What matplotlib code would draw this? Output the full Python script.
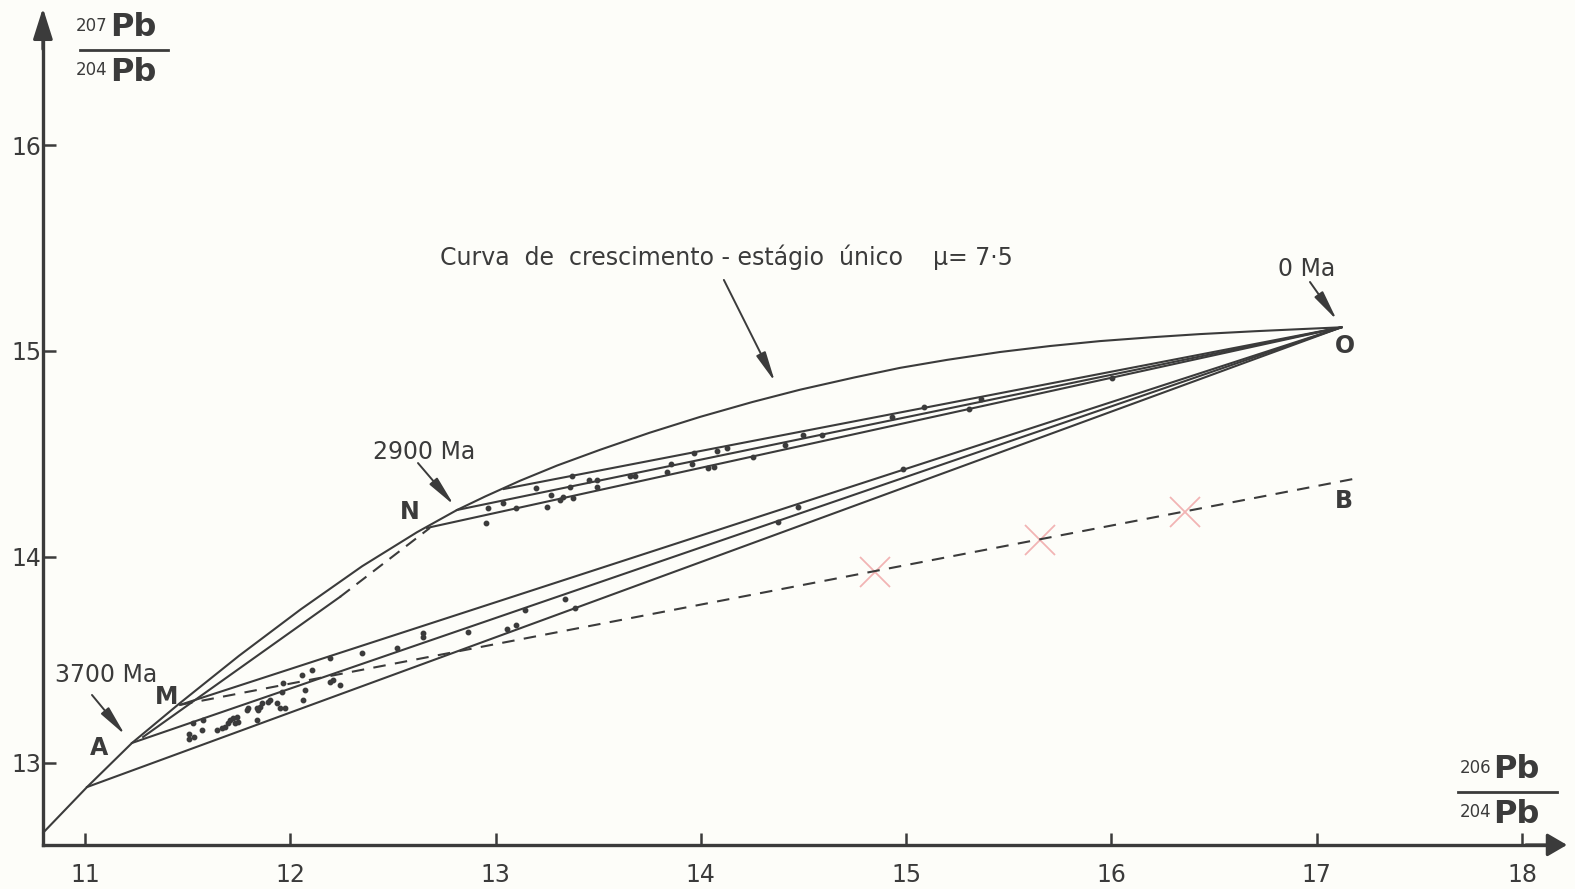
import matplotlib
matplotlib.use("Agg")
import matplotlib.pyplot as plt

plt.rcParams['font.family'] = ['DejaVu Sans']

# ---------------- data ----------------
# single-stage growth curve, mu = 7.5
curve_x = [10.795, 11.010, 11.229, 11.463, 11.750, 12.050, 12.350, 12.617, 12.812,
           12.950, 13.119, 13.300, 13.508, 13.750, 13.996, 14.250, 14.483, 14.750,
           14.970, 15.200, 15.457, 15.700, 15.944, 16.200, 16.431, 16.700, 16.918,
           17.120]
curve_y = [12.660, 12.883, 13.097, 13.291, 13.520, 13.745, 13.955, 14.120, 14.228,
           14.294, 14.370, 14.444, 14.520, 14.603, 14.680, 14.752, 14.812, 14.872,
           14.918, 14.957, 14.995, 15.024, 15.048, 15.067, 15.082, 15.096, 15.106,
           15.115]

# present-day point O
o_x, o_y = 17.120, 15.115

# chords to O: upper bundle (from 2900 Ma region) and lower bundle (from 3700 Ma region)
upper_start_x = [13.040, 12.812, 12.666]
upper_start_y = [14.330, 14.228, 14.141]
lower_start_x = [11.010, 11.229, 11.463]
lower_start_y = [12.883, 13.097, 13.282]

# chord A -> N (solid part, then dashed part)
chord_x = [11.283, 12.242, 12.680]
chord_y = [13.126, 13.806, 14.141]

# dashed line M -> B
mb_x = [11.463, 17.201]
mb_y = [13.282, 14.383]

# faint red crosses on line M-B
cross_x = [14.848, 15.652, 16.358]
cross_y = [13.927, 14.083, 14.218]

# analyses, upper bundle
upper_pts_x = [12.964, 12.953, 13.038, 13.099, 13.197, 13.249, 13.268, 13.314, 13.330,
               13.378, 13.371, 13.362, 13.456, 13.492, 13.492, 13.653, 13.679, 13.853,
               13.835, 13.966, 13.956, 14.035, 14.062, 14.078, 14.127, 14.254, 14.410,
               14.497, 14.592, 14.931, 15.087, 15.306, 15.366, 16.002]
upper_pts_y = [14.236, 14.167, 14.261, 14.236, 14.334, 14.244, 14.301, 14.277, 14.293,
               14.285, 14.393, 14.341, 14.374, 14.374, 14.338, 14.393, 14.393, 14.450,
               14.414, 14.503, 14.450, 14.431, 14.438, 14.516, 14.528, 14.484, 14.544,
               14.592, 14.591, 14.681, 14.730, 14.717, 14.766, 14.867]

# analyses, lower bundle
lower_pts_x = [11.507, 11.507, 11.531, 11.568, 11.528, 11.575, 11.641, 11.666, 11.682,
               11.698, 11.706, 11.722, 11.739, 11.731, 11.747, 11.788, 11.795, 11.836,
               11.836, 11.852, 11.844, 11.861, 11.893, 11.901, 11.934, 11.950, 11.974,
               11.958, 11.966, 12.063, 12.072, 12.056, 12.104, 12.193, 12.193, 12.209,
               12.242, 12.348, 12.518, 12.648, 12.648, 12.867, 13.054, 13.099, 13.143,
               13.338, 13.387, 14.377, 14.474, 14.984]
lower_pts_y = [13.139, 13.117, 13.128, 13.160, 13.193, 13.209, 13.160, 13.168, 13.176,
               13.193, 13.209, 13.217, 13.225, 13.193, 13.200, 13.257, 13.266, 13.209,
               13.266, 13.273, 13.257, 13.290, 13.298, 13.306, 13.290, 13.266, 13.266,
               13.346, 13.387, 13.306, 13.354, 13.427, 13.451, 13.508, 13.395, 13.403,
               13.379, 13.533, 13.557, 13.630, 13.610, 13.637, 13.650, 13.670, 13.743,
               13.795, 13.751, 14.171, 14.244, 14.427]

x_ticks = [11, 12, 13, 14, 15, 16, 17, 18]
y_ticks = [13, 14, 15, 16]

# ---------------- styling ----------------
BG = '#fdfdf9'
INK = '#3b3b3b'
PINK = '#f2b4b4'
X0, Y0 = 10.795, 12.602      # axes origin
XTIP, YTIP = 18.219, 16.665  # arrow tips

fig = plt.figure(figsize=(15.75, 8.89), dpi=100)
fig.patch.set_facecolor(BG)
ax = fig.add_axes([0, 0, 1, 1])
ax.set_facecolor(BG)
ax.set_xlim(10.586, 18.258)
ax.set_ylim(12.388, 16.704)

for s in ['top', 'right']:
    ax.spines[s].set_visible(False)
ax.spines['left'].set_position(('data', X0))
ax.spines['bottom'].set_position(('data', Y0))
ax.spines['left'].set_bounds(Y0, YTIP - 0.05)
ax.spines['bottom'].set_bounds(X0, XTIP - 0.05)
for s in ['left', 'bottom']:
    ax.spines[s].set_color(INK)
    ax.spines[s].set_linewidth(2.4)

ax.set_xticks(x_ticks)
ax.set_xticklabels([str(t) for t in x_ticks])
ax.set_yticks(y_ticks)
ax.set_yticklabels([str(t) for t in y_ticks])
ax.tick_params(direction='in', length=9, width=1.8, colors=INK, labelsize=17)
ax.tick_params(axis='x', pad=13)
ax.tick_params(axis='y', pad=1)

# axis arrowheads
ax.annotate('', xy=(X0, YTIP), xytext=(X0, YTIP - 0.2),
            arrowprops=dict(arrowstyle='-|>,head_length=0.95,head_width=0.3',
                            mutation_scale=20, color=INK, lw=2.2,
                            shrinkA=0, shrinkB=0))
ax.annotate('', xy=(XTIP, Y0), xytext=(XTIP - 0.2, Y0),
            arrowprops=dict(arrowstyle='-|>,head_length=0.6,head_width=0.35',
                            mutation_scale=20, color=INK, lw=2.2,
                            shrinkA=0, shrinkB=0))

LW = 1.5
# growth curve
ax.plot(curve_x, curve_y, color=INK, lw=LW, solid_capstyle='round',
        solid_joinstyle='round')

# chords to O
for sx, sy in zip(upper_start_x, upper_start_y):
    ax.plot([sx, o_x], [sy, o_y], color=INK, lw=LW)
for sx, sy in zip(lower_start_x, lower_start_y):
    ax.plot([sx, o_x], [sy, o_y], color=INK, lw=LW)

# chord A -> N
ax.plot(chord_x[:2], chord_y[:2], color=INK, lw=LW)
ax.plot(chord_x[1:], chord_y[1:], color=INK, lw=LW, dashes=(6, 4))

# dashed M -> B
ax.plot(mb_x, mb_y, color=INK, lw=LW, dashes=(6, 4.5))

# faint red crosses
ax.plot(cross_x, cross_y, linestyle='none', marker='x', ms=22, mew=1.3,
        color=PINK, zorder=1)

# analyses
ax.plot(upper_pts_x, upper_pts_y, linestyle='none', marker='o', ms=3.2,
        color=INK, zorder=3)
ax.plot(lower_pts_x, lower_pts_y, linestyle='none', marker='o', ms=3.2,
        color=INK, zorder=3)

# ---------------- labels ----------------
TXT = dict(color=INK, fontsize=17)
LET = dict(color=INK, fontsize=17, fontweight='bold')
ax.text(11.102, 13.427, '3700 Ma', ha='center', va='center', **TXT)
ax.text(11.395, 13.320, 'M', ha='center', va='center', **LET)
ax.text(11.068, 13.073, 'A', ha='center', va='center', **LET)
ax.text(12.651, 14.510, '2900 Ma', ha='center', va='center', **TXT)
ax.text(12.583, 14.218, 'N', ha='center', va='center', **LET)
ax.text(16.952, 15.398, '0 Ma', ha='center', va='center', **TXT)
ax.text(17.137, 15.024, 'O', ha='center', va='center', **LET)
ax.text(17.132, 14.272, 'B', ha='center', va='center', **LET)
ax.text(12.729, 15.456, 'Curva  de  crescimento - estágio  único    μ= 7·5',
        ha='left', va='center', color=INK, fontsize=17)

ARW = dict(arrowstyle='-|>,head_length=1.3,head_width=0.22', mutation_scale=14,
           color=INK, lw=1.4, shrinkA=0, shrinkB=0)
ax.annotate('', xy=(11.195, 13.136), xytext=(11.034, 13.330), arrowprops=ARW)
ax.annotate('', xy=(12.797, 14.252), xytext=(12.622, 14.456), arrowprops=ARW)
ax.annotate('', xy=(17.098, 15.150), xytext=(16.967, 15.335), arrowprops=ARW)
ax.annotate('', xy=(14.361, 14.850), xytext=(14.112, 15.345), arrowprops=ARW)

# axis titles (isotope ratios)
def ratio(xc, yline, top_num, bot_num, half_w):
    ax.plot([xc - half_w, xc + half_w], [yline, yline], color=INK, lw=2.0,
            clip_on=False)
    for num, dy, va in [(top_num, 0.035, 'bottom'), (bot_num, -0.035, 'top')]:
        ax.text(xc - 0.08, yline + dy + (0.04 if va == 'bottom' else -0.02), num,
                ha='right', va=va, color=INK, fontsize=12)
        ax.text(xc - 0.07, yline + dy, 'Pb', ha='left', va=va, color=INK,
                fontsize=23, fontweight='bold')

ratio(11.19, 16.461, '207', '204', 0.215)
ratio(17.93, 12.859, '206', '204', 0.24)

fig.savefig('out.png', dpi=100, facecolor=BG)
